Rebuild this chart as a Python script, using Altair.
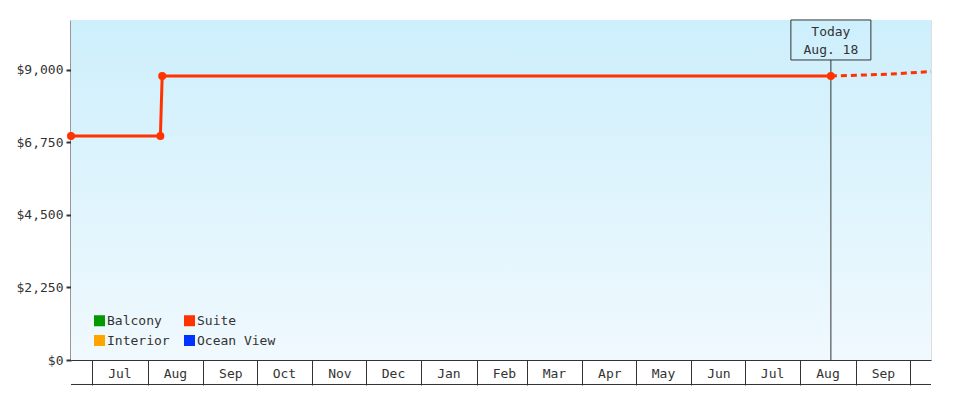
import altair as alt
import pandas as pd

# ---- data ----
series_names = ["Balcony", "Interior", "Suite", "Ocean View"]
series_colors = ["#009900", "#ffa500", "#ff3300", "#0033ff"]

suite_dates = ["2022-06-19T00:00", "2022-08-08T00:00", "2022-08-09T00:00", "2023-08-18T00:00"]
suite_prices = [6950, 6950, 8815, 8815]

forecast_dates = ["2023-08-18T00:00", "2023-08-23T00:00", "2023-09-20T00:00", "2023-10-13T00:00"]
forecast_prices = [8815, 8820, 8870, 8950]

y_ticks = [0, 2250, 4500, 6750, 9000]
today_label = ["Today", "Aug. 18"]

FONT = "DejaVu Sans Mono"
INK = "#333333"

suite_df = pd.DataFrame({"date": suite_dates, "price": suite_prices, "series": "Suite"})
fc_df = pd.DataFrame({"date": forecast_dates, "price": forecast_prices, "series": "Suite"})

x_start = alt.DateTime(year=2022, month=6, date=19)
x_end = alt.DateTime(year=2023, month=10, date=13)
today = alt.DateTime(year=2023, month=8, date=18)
Y_MAX = 10550

x_scale = alt.Scale(domain=[x_start, x_end])
y_scale = alt.Scale(domain=[0, Y_MAX], nice=False, zero=True)

x_axis = alt.Axis(
    title=None, grid=False, format="%b",
    tickCount={"interval": "month", "step": 1},
    labelExpr="datum.value >= datetime(2023, 9, 1) ? '' : timeFormat(datum.value, '%b')",
    tickSize=25, tickColor=INK, tickWidth=1,
    domainColor=INK, domainWidth=1,
    labelFont=FONT, labelFontSize=13, labelColor=INK,
    labelAlign="center", labelBaseline="middle", labelPadding=-12,
    labelOffset=27, labelFlush=False, labelOverlap=False,
)
y_axis = alt.Axis(
    title=None, grid=False, values=y_ticks, format="$,.0f",
    tickSize=5, tickColor=INK, tickWidth=2,
    domainColor=INK, domainWidth=2,
    labelFont=FONT, labelFontSize=13, labelColor=INK, labelPadding=3,
)

legend = alt.Legend(
    title=None, orient="none", legendX=22, legendY=294, columns=2,
    symbolType="square", symbolSize=121, symbolStrokeWidth=0,
    symbolOpacity=1, labelFont=FONT, labelFontSize=13, labelColor=INK,
    labelOffset=1, columnPadding=13, rowPadding=6, padding=0,
)
color_enc = alt.Color("series:N", scale=alt.Scale(domain=series_names, range=series_colors), legend=legend)


def xd(dt):
    return alt.X(datum=dt, type="temporal", scale=x_scale, axis=x_axis)


def yd(v):
    return alt.Y(datum=v, type="quantitative", scale=y_scale, axis=y_axis)


bg = alt.Chart().mark_rect(
    color=alt.Gradient(
        gradient="linear",
        stops=[alt.GradientStop(color="#cdeffc", offset=0),
               alt.GradientStop(color="#f0f9fe", offset=1)],
        x1=0, x2=0, y1=0, y2=1,
    )
).encode(x=xd(x_start), x2=alt.X2(datum=x_end), y=yd(0), y2=alt.Y2(datum=Y_MAX))

bottom_line = alt.Chart().mark_rule(color=INK, strokeWidth=1, clip=False).encode(
    x=xd(x_start), x2=alt.X2(datum=x_end), y=yd(-760)
)

today_rule = alt.Chart().mark_rule(color=INK, strokeWidth=1).encode(
    x=xd(today), y=yd(0), y2=alt.Y2(datum=9310)
)

today_box = alt.Chart().mark_rect(
    width=80, height=40, fillOpacity=0, stroke=INK, strokeWidth=1
).encode(x=xd(today), y=yd(9930))

today_text = alt.Chart().mark_text(
    text=today_label, font=FONT, fontSize=13, color=INK,
    align="center", baseline="middle", lineHeight=18,
).encode(x=xd(today), y=yd(10180))

suite_line = alt.Chart(suite_df).mark_line(strokeWidth=3).encode(
    x=alt.X("date:T", scale=x_scale, axis=x_axis),
    y=alt.Y("price:Q", scale=y_scale, axis=y_axis),
    color=color_enc,
)

fc_line = alt.Chart(fc_df).mark_line(strokeWidth=3, strokeDash=[6, 4]).encode(
    x=alt.X("date:T", scale=x_scale, axis=x_axis),
    y=alt.Y("price:Q", scale=y_scale, axis=y_axis),
    color=color_enc,
)

suite_pts = alt.Chart(suite_df).mark_point(filled=True, size=64, opacity=1).encode(
    x=alt.X("date:T", scale=x_scale, axis=x_axis),
    y=alt.Y("price:Q", scale=y_scale, axis=y_axis),
    color=color_enc,
)

chart = alt.layer(
    bg, bottom_line, today_rule, today_box, today_text, suite_line, fc_line, suite_pts
).properties(
    width=860, height=340,
    padding={"left": 63, "top": 12, "right": 41, "bottom": 32},
    autosize=alt.AutoSizeParams(type="none"),
).configure_view(stroke=None).configure(background="white")

chart.save("out.html", embed_options={"renderer": "svg", "actions": False})
